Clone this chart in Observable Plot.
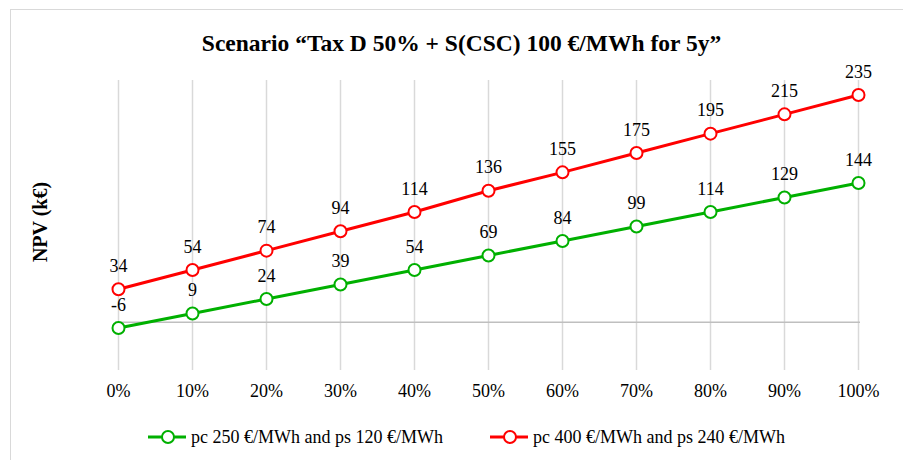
<!DOCTYPE html>
<html>
<head>
<meta charset="utf-8">
<script src="https://cdn.jsdelivr.net/npm/d3@7"></script>
<script src="https://cdn.jsdelivr.net/npm/@observablehq/plot@0.6"></script>
<style>
  body { margin: 0; background: #fff; font-family: "Liberation Serif", "DejaVu Serif", serif; }
  #wrap { position: relative; width: 903px; height: 460px; overflow: hidden; }
  #frame { position: absolute; left: 10px; top: 9px; width: 1000px; height: 600px; border-left: 1px solid #d9d9d9; border-top: 1px solid #d9d9d9; }
  #title { position: relative; height: 60px; box-sizing: border-box; padding-top: 30px; line-height: 26px; font-size: 23.5px; font-weight: bold; text-align: center; padding-left: 20px; color: #000; }
  #chart { position: relative; height: 350px; }
  #ylab { position: absolute; left: 40px; top: 222px; transform: translate(-50%, -50%) rotate(-90deg); font-size: 20px; font-weight: bold; white-space: nowrap; }
  #legend { position: relative; margin-top: 17px; height: 20px; line-height: 20px; font-size: 18px; }
  .item { position: absolute; top: 0; display: flex; align-items: center; white-space: nowrap; }
</style>
</head>
<body>
<div id="wrap">
  <div id="frame"></div>
  <div id="title">Scenario “Tax D 50% + S(CSC) 100 €/MWh for 5y”</div>
  <div id="chart"></div>
  <div id="ylab">NPV (k€)</div>
  <div id="legend"></div>
</div>
<script>
const categories = ["0%", "10%", "20%", "30%", "40%", "50%", "60%", "70%", "80%", "90%", "100%"];
const seriesGreen = [-6, 9, 24, 39, 54, 69, 84, 99, 114, 129, 144];
const seriesRed = [34, 54, 74, 94, 114, 136, 155, 175, 195, 215, 235];
const seriesNames = ["pc 250 €/MWh and ps 120 €/MWh", "pc 400 €/MWh and ps 240 €/MWh"];
const colors = ["#00b000", "#ff0000"];

const data = [];
categories.forEach((c, i) => {
  data.push({cat: c, v: seriesGreen[i], s: seriesNames[0]});
  data.push({cat: c, v: seriesRed[i], s: seriesNames[1]});
});

const chart = Plot.plot({
  width: 903,
  height: 350,
  marginLeft: 115,
  marginRight: 43,
  marginTop: 20,
  marginBottom: 40,
  style: { fontFamily: "Liberation Serif, serif", fontSize: "18px", color: "#000", background: "transparent" },
  x: { type: "point", domain: categories, padding: 0, label: null },
  y: { domain: [-50, 250], axis: null },
  color: { domain: seriesNames, range: colors },
  marks: [
    Plot.ruleX(categories, { x: d => d, stroke: "#d9d9d9", strokeWidth: 1.5 }),
    Plot.ruleY([0], { stroke: "#bfbfbf", strokeWidth: 1.5 }),
    Plot.axisX({ tickSize: 0, tickPadding: 14, fontSize: 18, label: null }),
    Plot.line(data, { x: "cat", y: "v", z: "s", stroke: "s", strokeWidth: 3 }),
    Plot.dot(data, { x: "cat", y: "v", stroke: "s", fill: "white", r: 6, strokeWidth: 2 }),
    Plot.text(data, { x: "cat", y: "v", text: d => String(d.v), dy: -23, fontSize: 18, fill: "#000" })
  ]
});
document.getElementById("chart").appendChild(chart);

const legend = document.getElementById("legend");
const lefts = [148, 490];
seriesNames.forEach((name, i) => {
  const item = document.createElement("div");
  item.className = "item";
  item.style.left = lefts[i] + "px";
  item.innerHTML = `<svg width="40" height="20"><line x1="0" y1="10" x2="38" y2="10" stroke="${colors[i]}" stroke-width="3"/><circle cx="20" cy="10" r="6" fill="white" stroke="${colors[i]}" stroke-width="2"/></svg><span style="margin-left:3px">${name}</span>`;
  legend.appendChild(item);
});
</script>
</body>
</html>
